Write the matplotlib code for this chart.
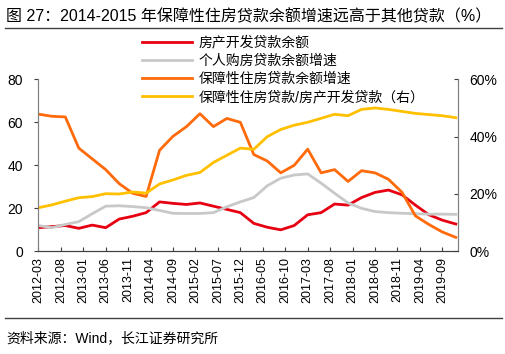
import numpy as np
import pandas as pd
import matplotlib
matplotlib.use('Agg')
import matplotlib.pyplot as plt
from matplotlib.lines import Line2D

plt.rcParams['font.family'] = ['Liberation Sans', 'Noto Sans CJK SC', 'DejaVu Sans']

# quarterly readings, 2012-03 .. 2019-12
dates = pd.date_range('2012-03-01', '2019-12-01', freq='3MS')
dev_loan = [11, 11.5, 12, 10.7, 12.2, 11, 15, 16.3, 18, 23, 22.3, 21.8, 22.5, 21, 19.5, 18,
            13, 11.2, 10, 12, 17, 18, 22, 21.5, 25, 27.4, 28.5, 26.3, 21.5, 17, 14.5, 12.7]
mortgage = [12, 11, 12.5, 13.8, 17.5, 21, 21.2, 20.8, 20.3, 19, 17.7, 17.6, 17.6, 18, 20.7, 23,
            25, 30.5, 34, 35.5, 36, 31.7, 27, 22.5, 20, 18.5, 18, 17.7, 17.5, 17.3, 17.3, 17.2]
afford = [63.8, 62.8, 62.5, 48, 43, 38, 31.5, 27, 25.5, 47, 53.5, 58, 64, 58, 61.8, 60,
          45, 42, 36.5, 40, 47.5, 36.5, 38, 32.5, 37.5, 36.5, 33.5, 27.5, 16.5, 12.5, 9, 6.5]
ratio = [15.2, 16.2, 17.5, 18.7, 19.1, 20.1, 20, 20.7, 20.3, 23.5, 24.9, 26.5, 27.5, 31, 33.5, 36,
         35.6, 40, 42.5, 44, 45, 46.4, 47.8, 47.3, 49.5, 50, 49.5, 48.8, 48.1, 47.7, 47.3, 46.6]

labels = ['房产开发贷款余额', '个人购房贷款余额增速', '保障性住房贷款余额增速',
          '保障性住房贷款/房产开发贷款（右）']
colors = ['#E60012', '#C8C8C8', '#FF6A0A', '#FFC000']

start = dates[0]
x = np.array([(d.year - start.year) * 12 + d.month - start.month for d in dates])
tick_months = np.arange(0, 91, 5)
tick_labels = [(start + pd.DateOffset(months=int(m))).strftime('%Y-%m') for m in tick_months]

fig = plt.figure(figsize=(5.05, 3.54), dpi=100)
ax = fig.add_axes([0.076, 0.290, 0.831, 0.486])
ax2 = ax.twinx()

ax.plot(x, dev_loan, color=colors[0], lw=2, solid_joinstyle='round')
ax.plot(x, mortgage, color=colors[1], lw=2, solid_joinstyle='round')
ax.plot(x, afford, color=colors[2], lw=2, solid_joinstyle='round')
ax2.plot(x, ratio, color=colors[3], lw=2, solid_joinstyle='round')

ax.set_xlim(0, 93.5)
ax.set_ylim(0, 80)
ax.set_yticks([0, 20, 40, 60, 80])
ax2.set_ylim(0, 60)
ax2.set_yticks([0, 20, 40, 60])
ax2.set_yticklabels(['0%', '20%', '40%', '60%'])
ax.set_xticks(tick_months)
ax.set_xticklabels(tick_labels, rotation=90)

for a in (ax, ax2):
    a.spines['top'].set_visible(False)
    a.spines['left'].set_color('#808080')
    a.spines['right'].set_color('#808080')
    a.spines['bottom'].set_color('#404040')
ax.tick_params(axis='y', labelsize=10, length=3, color='#404040', pad=8)
ax2.tick_params(axis='y', labelsize=10, length=3, direction='in', color='#404040', pad=8)
ax.tick_params(axis='x', labelsize=9, length=3, direction='in', color='#404040', pad=4)

handles = [Line2D([0], [0], color=c, lw=2) for c in colors]
fig.legend(handles, labels, loc='upper left', bbox_to_anchor=(0.27, 0.915),
           frameon=False, fontsize=10, handlelength=3.6, handletextpad=0.5,
           labelspacing=0.3, borderaxespad=0)

fig.text(0.012, 0.955, '图 27：2014-2015 年保障性住房贷款余额增速远高于其他贷款（%）',
         fontsize=11.5, va='center', ha='left')
fig.add_artist(Line2D([0.01, 0.995], [0.921, 0.921], color='#404040', lw=1))
fig.add_artist(Line2D([0.01, 0.995], [0.102, 0.102], color='#404040', lw=1))
fig.text(0.012, 0.045, '资料来源：Wind，长江证券研究所', fontsize=10, va='center', ha='left')

fig.savefig('out.png', dpi=100)
